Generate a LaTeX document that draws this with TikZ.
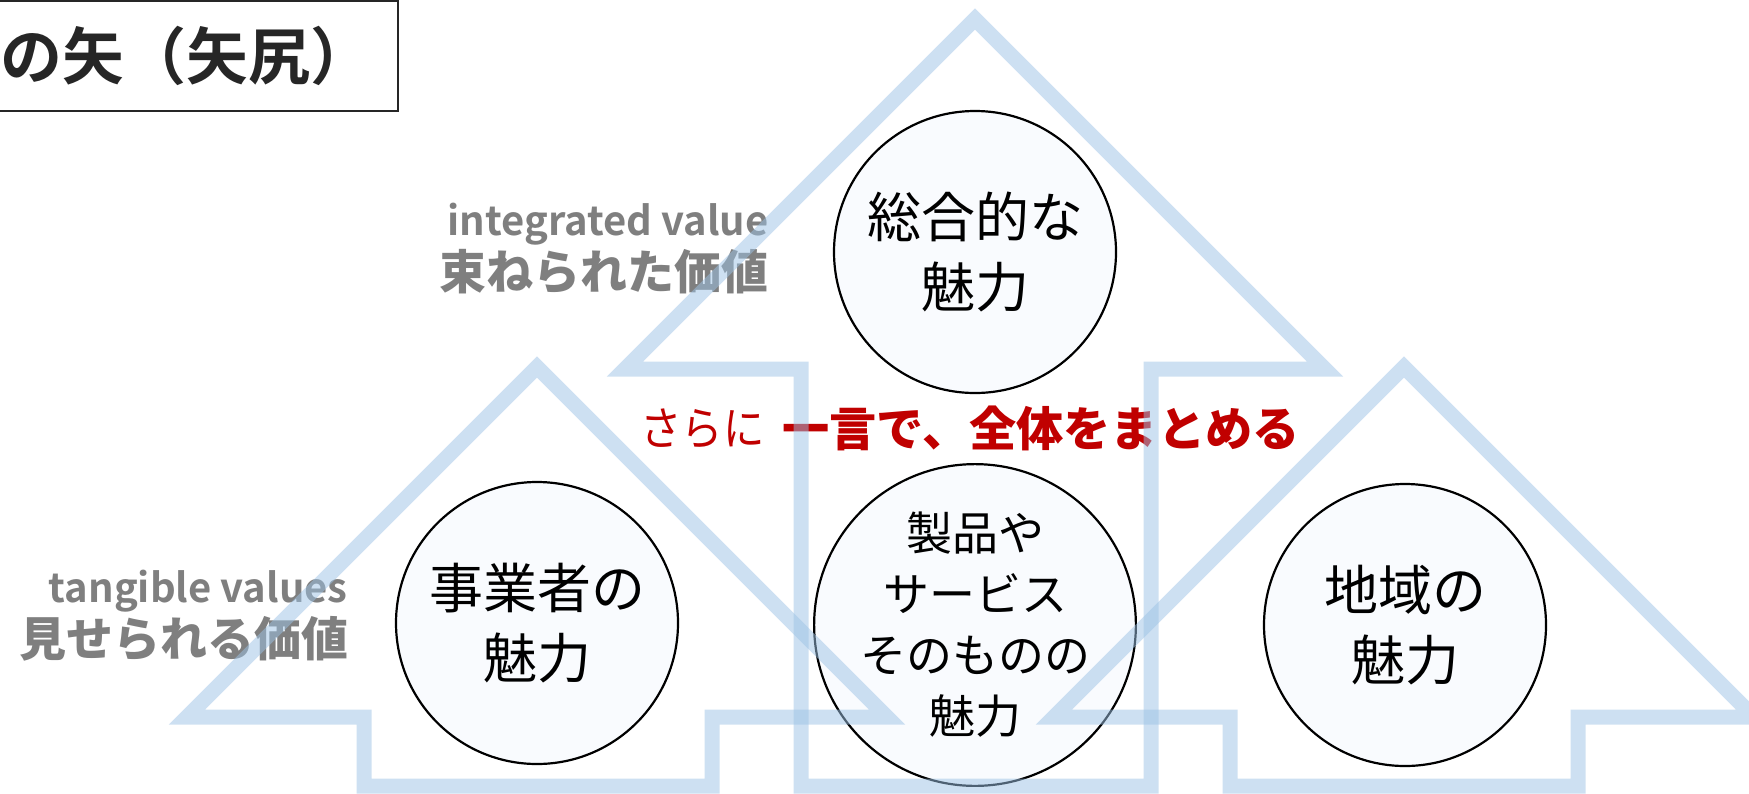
\documentclass[tikz,border=0pt]{standalone}
\usepackage{graphicx}
\usepackage{fontspec}
\newfontfamily\jp{Noto Sans CJK JP}[BoldFont={* Bold}]
\newfontfamily\jpheavy{Noto Sans CJK JP Black}
\definecolor{arrowblue}{RGB}{157,195,230}
\definecolor{circfill}{RGB}{249,251,254}
\definecolor{labgray}{RGB}{127,127,127}
\definecolor{accred}{RGB}{192,0,0}
\definecolor{titlecol}{RGB}{38,38,38}
\tikzset{
  bigarrow/.style={draw=arrowblue, draw opacity=0.5, line width=7.5pt, line join=miter},
  circ/.style={circle, draw=black, line width=1.1pt, fill=circfill, minimum size=141pt, inner sep=0pt, align=center, text=black, font=\jp\fontsize{27}{35}\selectfont},
  circsmall/.style={circ, font=\jp\fontsize{23}{30.5}\selectfont},
  graysmall/.style={inner sep=0pt, text=labgray, font=\jp\bfseries\fontsize{20}{24}\selectfont},
  graybig/.style={inner sep=0pt, text=labgray, font=\jpheavy\fontsize{23.5}{28}\selectfont},
  redreg/.style={inner sep=0pt, text=accred, font=\jp\fontsize{23}{28}\selectfont},
  redbold/.style={inner sep=0pt, text=accred, font=\jpheavy\fontsize{23.6}{28}\selectfont},
  titlebox/.style={draw=titlecol, line width=1pt, fill=white, outer sep=0pt, inner xsep=12.5pt, inner ysep=0pt, minimum height=55pt, text=titlecol, font=\jp\bfseries\fontsize{31}{36}\selectfont}
}
\begin{document}
\begin{tikzpicture}[x=0.5pt,y=-0.5pt]
\useasboundingbox (0,0) rectangle (1749,793);
\clip (0,0) rectangle (1749,793);
\fill[white] (0,0) rectangle (1749,793);
% title
\node[titlebox, anchor=north east] (title) at (398,1) {三本の矢（矢尻）};
% labels
\node[graysmall, anchor=base east] (iv) at (769,235) {integrated value};
\node[graybig, anchor=base east] (tv) at (769,289) {束ねられた価値};
\node[graysmall, anchor=base east] (tgv) at (348,602) {tangible values};
\node[graybig, anchor=base east] (mv) at (349,656) {見せられる価値};
% circles
\node[circ] (top) at (975,252) {総合的な\\魅力};
\node[circ] (left) at (537,623) {事業者の\\魅力};
\node[circsmall] (mid) at (975,625) {製品や\\サービス\\そのものの\\魅力};
\node[circ] (right) at (1405,625) {地域の\\魅力};
% red text
\node[redreg, anchor=base east] (sarani) at (765,445) {\scalebox{0.9}[1]{さらに}};
\node[redbold, anchor=base west] (hitokoto) at (782,446) {一言で、全体をまとめる};
% arrows
\draw[bigarrow] (975,19) -- (1325,369) -- (1151,369) -- (1151,786) -- (801,786) -- (801,369) -- (625,369) -- cycle;
\draw[bigarrow] (537,367) -- (887,717) -- (712,717) -- (712,786) -- (364,786) -- (364,717) -- (187,717) -- cycle;
\draw[bigarrow] (1404,367) -- (1754,717) -- (1578,717) -- (1578,786) -- (1230,786) -- (1230,717) -- (1054,717) -- cycle;
\end{tikzpicture}
\end{document}
